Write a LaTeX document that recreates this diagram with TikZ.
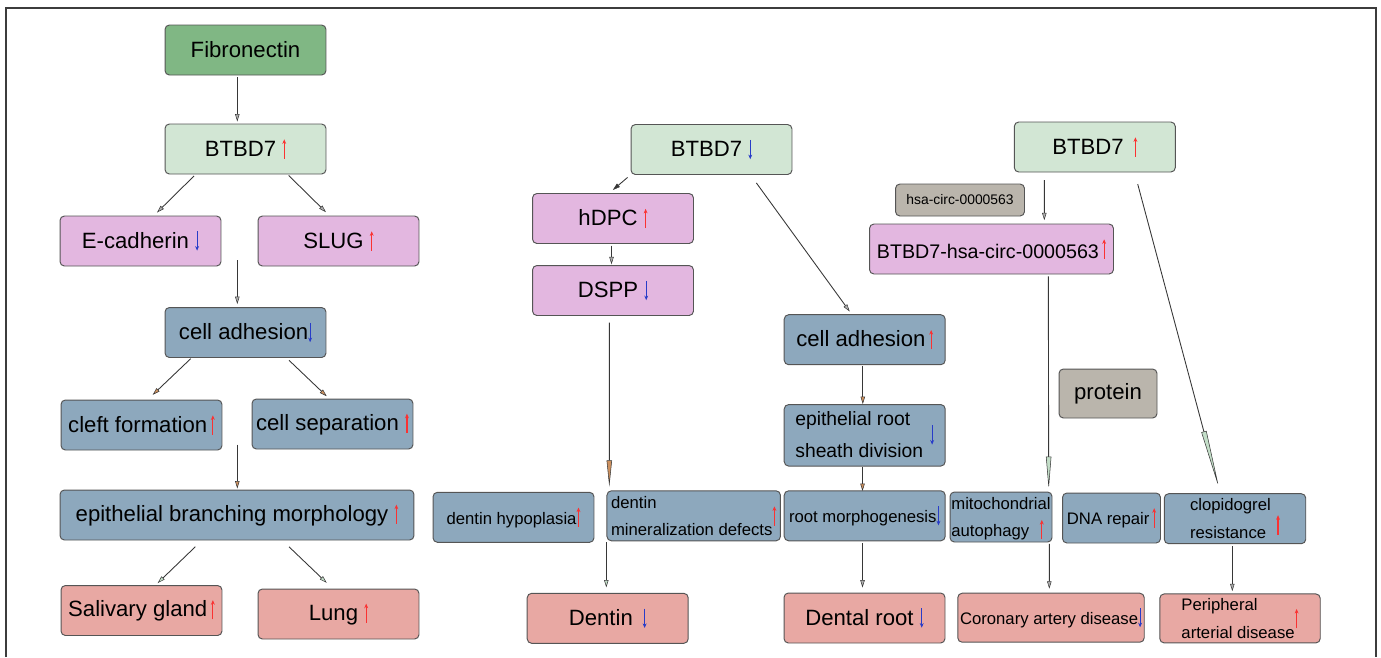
\documentclass[tikz,border=0pt]{standalone}
\usepackage{fontspec}
\setmainfont{Liberation Sans}
\usepackage{xcolor}
\usetikzlibrary{arrows.meta,calc}
\definecolor{fibgreen}{RGB}{128,183,132}
\definecolor{btbdgreen}{RGB}{210,230,212}
\definecolor{genepink}{RGB}{227,183,224}
\definecolor{procblue}{RGB}{141,168,189}
\definecolor{organred}{RGB}{232,168,163}
\definecolor{molgray}{RGB}{186,181,172}
\definecolor{boxline}{RGB}{85,85,85}
\definecolor{linegray}{RGB}{55,55,55}
\definecolor{headgray}{RGB}{175,175,175}
\definecolor{headtan}{RGB}{205,145,95}
\definecolor{headmint}{RGB}{195,222,200}
\definecolor{upred}{RGB}{250,50,50}
\definecolor{downblue}{RGB}{40,60,200}
\definecolor{framegray}{RGB}{60,60,60}

\newcommand{\upar}[1][0pt]{\tikz[baseline=#1]{\draw[upred, line width=0.65pt, -{Stealth[length=2.6pt,width=2.2pt]}] (0,-1.5pt) -- (0,9.5pt);}}
\newcommand{\dnar}[1][0pt]{\tikz[baseline=#1]{\draw[downblue, line width=0.65pt, -{Stealth[length=2.6pt,width=2.2pt]}] (0,9.5pt) -- (0,-1.5pt);}}

\begin{document}
\begin{tikzpicture}[x=0.02cm, y=-0.02cm,
  box/.style={draw=boxline, line width=0.55pt, rounded corners=2.5pt, inner sep=0pt, align=center, font=\fontsize{12.6}{15}\selectfont},
  std/.style={minimum width=3.22cm, minimum height=1cm},
  smalltxt/.style={font=\fontsize{9.5}{15.6}\selectfont},
  twoline/.style={text height=13pt, text depth=8pt},
  link/.style={draw=linegray, line width=0.5pt, -{Triangle[length=4.2pt, width=2.5pt, fill=#1, line width=0.3pt]}},
  link/.default=headgray,
  spear/.style 2 args={draw=linegray, line width=0.5pt, -{Triangle[length=#1, width=3pt, fill=#2, line width=0.3pt]}}]

\useasboundingbox (0,0) rectangle (1381,657);

% Frame
\draw[framegray, line width=0.8pt] (6,657) -- (6,8) -- (1376,8) -- (1376,657);

% Salivary gland / lung branch
\node[box, std, fill=fibgreen] (fib) at (245.5,50) {Fibronectin};
\node[box, std, fill=btbdgreen] (btbdL) at (245.5,149) {BTBD7~\upar};
\node[box, std, fill=genepink] (ecad) at (140.5,241) {E-cadherin~\dnar};
\node[box, std, fill=genepink] (slug) at (338.5,241) {SLUG~\upar};
\node[box, std, fill=procblue] (adhL) at (245.5,332.5) {cell adhesion\dnar};
\node[box, std, fill=procblue] (cleft) at (141.5,425) {cleft formation\,\upar};
\node[box, std, fill=procblue] (sep) at (332.5,424) {cell separation~\upar};
\node[box, std, fill=procblue, minimum width=7.08cm] (ebm) at (237,515) {epithelial branching morphology~\upar};
\node[box, std, fill=organred] (saliv) at (141.5,610.5) {Salivary gland\,\upar};
\node[box, std, fill=organred] (lung) at (338.5,614) {Lung~\upar};

\coordinate (splitL) at (237.3,260);
\coordinate (mergeL) at (237.3,444.7);

\draw[link] ($(fib.south)+(-8.2,2)$) -- ($(btbdL.north)+(-8.2,-2)$);
\draw[link] ($(btbdL.south)+(-51.5,1.5)$) -- ($(ecad.north)+(16.5,-3)$);
\draw[link] ($(btbdL.south)+(43.2,1)$) -- ($(slug.north)+(-12.5,-3.3)$);
\draw[link] (splitL) -- ($(adhL.north)+(-8.2,-3)$);
\draw[link=headtan] ($(adhL.south)+(-54.8,0.7)$) -- ($(cleft.north)+(11.2,-4.7)$);
\draw[link=headtan] ($(adhL.south)+(43.5,2.3)$) -- ($(sep.north)+(-5.8,-2.3)$);
\draw[link=headtan] (mergeL) -- ($(ebm.north)+(0.3,-1)$);
\draw[link=headmint] ($(ebm.south)+(-41.7,6.3)$) -- ($(saliv.north)+(16.2,-2)$);
\draw[link=headmint] ($(ebm.south)+(52,6.3)$) -- ($(lung.north)+(-11.8,-5.7)$);

% Dentin / dental root branch
\node[box, std, fill=btbdgreen] (btbdM) at (711.5,149.5) {BTBD7~\dnar};
\node[box, std, fill=genepink] (hdpc) at (613,218.5) {hDPC~\upar};
\node[box, std, fill=genepink] (dspp) at (613,290.5) {DSPP~\dnar};
\node[box, std, fill=procblue] (adhM) at (864.7,339.7) {cell adhesion\,\upar};
\node[box, std, fill=procblue, minimum height=1.23cm, font=\fontsize{11}{18}\selectfont, twoline] (roots) at (864.7,435.3)
  {\begin{tabular}{@{}l@{}}epithelial root\\sheath division\end{tabular}\hspace{4pt}\dnar[1.3pt]};
\node[box, std, fill=procblue, smalltxt] (hypo) at (513.5,517.3) {dentin hypoplasia\upar};
\node[box, std, fill=procblue, smalltxt, twoline, minimum width=3.47cm] (mineral) at (693.7,515.8)
  {\begin{tabular}{@{}l@{}}dentin\\mineralization defects\end{tabular}\upar[1.6pt]};
\node[box, std, fill=procblue, smalltxt] (morph) at (864.7,515.8) {root morphogenesis\dnar};
\node[box, std, fill=organred] (dentin) at (607.7,618.3) {Dentin~\,\dnar};
\node[box, std, fill=organred] (droot) at (864.5,618) {Dental root~\dnar};

\coordinate (dsppend) at (609.3,486.7);
\coordinate (dentinstart) at (606.3,542.3);

\draw[link=linegray] ($(btbdM.south)+(-83.9,2.4)$) -- ($(hdpc.north)+(-0.2,-3)$);
\draw[link] ($(hdpc.south)+(-1.5,1.7)$) -- ($(dspp.north)+(-1.5,-0.7)$);
\draw[link] ($(btbdM.south)+(44.9,8)$) -- ($(adhM.north)+(-15,-2.7)$);
\draw[link=headtan] ($(adhM.south)+(-1.9,1.3)$) -- ($(roots.north)+(-1.9,0)$);
\draw[spear={15pt}{headtan}] ($(dspp.south)+(-3.7,6.7)$) -- (dsppend);
\draw[link=headmint] (dentinstart) -- ($(dentin.north)+(-1.4,-5.4)$);
\draw[link=headtan] ($(roots.south)+(-2.2,0.7)$) -- ($(morph.north)+(-2.2,0.7)$);
\draw[link] ($(morph.south)+(-2.2,2)$) -- ($(droot.north)+(-2,-5)$);

% Vascular branch
\node[box, std, fill=btbdgreen] (btbdR) at (1094.8,147) {BTBD7~\,\upar};
\node[box, fill=molgray, minimum width=2.58cm, minimum height=0.64cm, font=\fontsize{7.9}{9}\selectfont] (hsa) at (960,200) {hsa-circ-0000563};
\node[box, fill=genepink, minimum width=4.88cm, minimum height=1cm, font=\fontsize{11.2}{13}\selectfont] (circ) at (991.5,249) {BTBD7-hsa-circ-0000563\,\upar[-1.5pt]};
\node[box, fill=molgray, minimum width=1.96cm, minimum height=0.98cm] (protein) at (1108,393.5) {protein};
\node[box, fill=procblue, smalltxt, twoline, minimum width=2.04cm, minimum height=1cm] (mito) at (1001,517)
  {\begin{tabular}{@{}l@{}}mitochondrial\\autophagy\hspace{6pt}\upar\end{tabular}};
\node[box, fill=procblue, smalltxt, minimum width=1.96cm, minimum height=1cm] (dna) at (1111.5,518) {DNA repair\,\upar};
\node[box, fill=procblue, smalltxt, twoline, minimum width=2.83cm, minimum height=1cm] (clop) at (1235,518.7)
  {\begin{tabular}{@{}l@{}}clopidogrel\\resistance\end{tabular}\hspace{3pt}\upar[5pt]};
\node[box, fill=organred, smalltxt, minimum width=3.73cm, minimum height=0.98cm] (cad) at (1051,617.7) {Coronary artery disease\dnar};
\node[box, fill=organred, smalltxt, twoline, minimum width=3.21cm, minimum height=0.98cm] (pad) at (1240,618.4)
  {\begin{tabular}{@{}l@{}}Peripheral\\arterial disease\end{tabular}\upar[1.6pt]};

\draw[link] ($(btbdR.south)+(-50.5,7.6)$) -- ($(circ.north)+(52.8,-3.3)$);
\draw[spear={34pt}{headmint}] ($(btbdR.south)+(42.9,11.6)$) -- ($(clop.north)+(-15.7,-4)$);
\draw[spear={18.7pt}{headmint}] ($(circ.south)+(56.8,2)$) -- ($(mito.north)+(47.7,-2)$);
\draw[link] ($(mito.south)+(48.3,1.3)$) -- ($(cad.north)+(-1.7,-4)$);
\draw[link] ($(clop.south)+(-2.7,2)$) -- ($(pad.north)+(-7.7,-2.3)$);

\end{tikzpicture}
\end{document}
